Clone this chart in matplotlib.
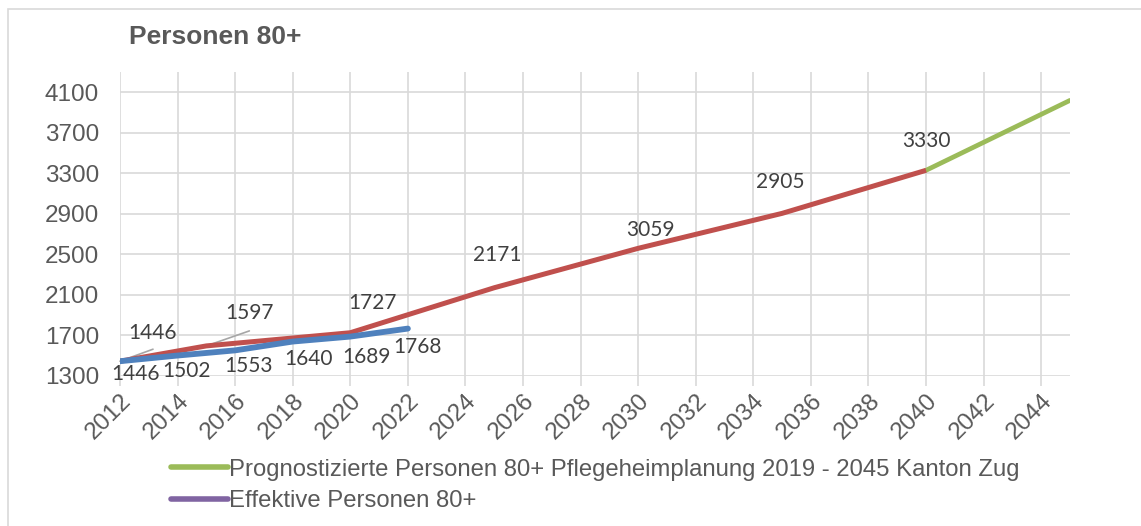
import matplotlib.pyplot as plt
from matplotlib.lines import Line2D
from matplotlib.patches import Rectangle

plt.rcParams['font.family'] = ['Liberation Sans', 'DejaVu Sans']

# Daten
prog_jahre = [2012, 2015, 2020, 2025, 2030, 2035, 2040]
prog_werte = [1446, 1597, 1727, 2171, 2560, 2905, 3330]
prog_beschriftung = ['1446', '1597', '1727', '2171', '3059', '2905', '3330']

gruen_jahre = [2040, 2045]
gruen_werte = [3330, 4020]

eff_jahre = [2012, 2014, 2016, 2018, 2020, 2022]
eff_werte = [1446, 1502, 1553, 1640, 1689, 1768]

x_ticks = list(range(2012, 2045, 2))
y_ticks = list(range(1300, 4101, 400))

legende = ['Prognostizierte Personen 80+ Pflegeheimplanung 2019 - 2045 Kanton Zug',
           'Effektive Personen 80+']

# Farben
rot = '#C0504D'
blau = '#4F81BD'
gruen = '#9BBB59'
lila = '#8064A2'
grau = '#D9D9D9'
text_grau = '#595959'
label_grau = '#404040'

fig = plt.figure(figsize=(11.41, 5.26), dpi=100)
ax = fig.add_axes([120 / 1141, 1 - 376 / 526, 950 / 1141, 304 / 526])

# Rahmen um das Diagramm
fig.patches.append(Rectangle((8 / 1141, -0.1), 1.2, 1.1 - 9 / 526, transform=fig.transFigure,
                             fill=False, edgecolor=grau, linewidth=1.2))

ax.plot(gruen_jahre, gruen_werte, color=gruen, lw=3.4, solid_capstyle='round', zorder=3)
ax.plot(prog_jahre, prog_werte, color=rot, lw=3.6, solid_capstyle='butt', zorder=4)
ax.plot(eff_jahre, eff_werte, color=blau, lw=4.2, solid_capstyle='round', zorder=5)

# Beschriftungen rote Linie (Versatz in Pixeln)
rot_versatz = [(33, 28), (43, 33), (22, 30), (3, 33), (12, 18), (-2, 31), (0, 29)]
for j, w, t, (dx, dy) in zip(prog_jahre, prog_werte, prog_beschriftung, rot_versatz):
    ax.annotate(t, (j, w), xytext=(dx, dy), textcoords='offset pixels', family='Lato',
                ha='center', va='center', fontsize=15, color=label_grau, zorder=6)

# Fuehrungslinien
for j, w, (x1, y1) in [(2012, 1446, (33, 12)), (2015, 1597, (43, 15))]:
    ax.annotate('', (j, w), xytext=(x1, y1), textcoords='offset pixels',
                arrowprops=dict(arrowstyle='-', color='#A6A6A6', lw=1.2, shrinkA=0, shrinkB=0))

blau_versatz = [(16, -13), (9, -15), (13, -16), (16, -17), (16, -20), (10, -18)]
for j, w, (dx, dy) in zip(eff_jahre, eff_werte, blau_versatz):
    ax.annotate(str(w), (j, w), xytext=(dx, dy), textcoords='offset pixels', family='Lato',
                ha='center', va='center', fontsize=15, color=label_grau, zorder=6)

ax.set_xlim(2012, 2045)
ax.set_ylim(1300, 4300)
ax.set_xticks(x_ticks)
ax.set_xticklabels([str(x) for x in x_ticks], rotation=45, ha='right', va='top',
                   rotation_mode='anchor', fontsize=17.5, color=text_grau)
ax.set_yticks(y_ticks)
ax.set_yticklabels([str(y) for y in y_ticks], fontsize=17.5, color=text_grau)
ax.tick_params(axis='x', length=7, width=1.2, color=grau, pad=3)
ax.tick_params(axis='y', length=0, pad=15)
ax.grid(True, color=grau, lw=1.2)
for s in ax.spines.values():
    s.set_visible(False)

fig.text(129 / 1141, 1 - 37 / 526, 'Personen 80+', fontsize=19, fontweight='bold',
         color=text_grau, ha='left', va='center')

handles = [Line2D([], [], color=gruen, lw=4, solid_capstyle='round'),
           Line2D([], [], color=lila, lw=4, solid_capstyle='round')]
fig.legend(handles, legende, loc='upper left', bbox_to_anchor=(161 / 1141, 1 - 449 / 526),
           frameon=False, fontsize=17.2, labelcolor=text_grau, handlelength=2.4,
           handletextpad=0.05, labelspacing=0.4, borderaxespad=0)

fig.savefig('out.png', dpi=100)
